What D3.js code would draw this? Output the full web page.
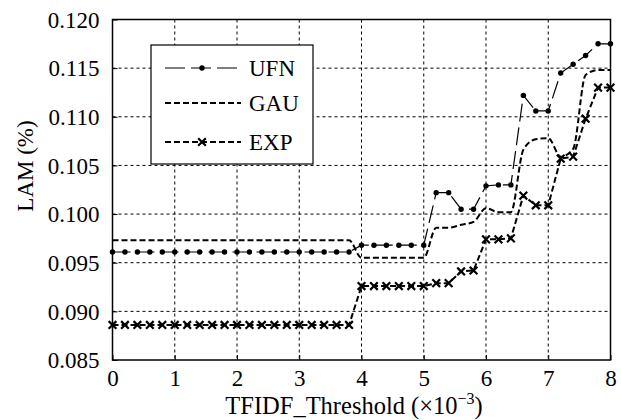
<!DOCTYPE html>
<html>
<head>
<meta charset="utf-8">
<script src="https://cdn.jsdelivr.net/npm/d3@7"></script>
<style>
  body { margin: 0; background: #fff; }
  text { font-family: "Liberation Serif", "Times New Roman", serif; fill: #000; }
</style>
</head>
<body>
<div class="chart"></div>
<script>
// data
var thresholds = [0, 0.2, 0.4, 0.6, 0.8, 1, 1.2, 1.4, 1.6, 1.8, 2, 2.2, 2.4, 2.6, 2.8, 3, 3.2, 3.4, 3.6, 3.8,
  4, 4.2, 4.4, 4.6, 4.8, 5, 5.2, 5.4, 5.6, 5.8, 6, 6.2, 6.4, 6.6, 6.8, 7, 7.2, 7.4, 7.6, 7.8, 8];

var ufn = [0.0961, 0.0961, 0.0961, 0.0961, 0.0961, 0.0961, 0.0961, 0.0961, 0.0961, 0.0961,
  0.0961, 0.0961, 0.0961, 0.0961, 0.0961, 0.0961, 0.0961, 0.0961, 0.0961, 0.0961,
  0.0968, 0.0968, 0.0968, 0.0968, 0.0968, 0.0968,
  0.1022, 0.1022, 0.1005, 0.1005, 0.1029, 0.1030, 0.1030, 0.1122, 0.1106, 0.1106,
  0.1145, 0.1154, 0.1163, 0.1175, 0.1175];

var gau = [0.0973, 0.0973, 0.0973, 0.0973, 0.0973, 0.0973, 0.0973, 0.0973, 0.0973, 0.0973,
  0.0973, 0.0973, 0.0973, 0.0973, 0.0973, 0.0973, 0.0973, 0.0973, 0.0973, 0.0973,
  0.0955, 0.0955, 0.0955, 0.0955, 0.0955, 0.0955,
  0.0986, 0.0986, 0.0989, 0.0992, 0.1006, 0.1002, 0.1002, 0.1066, 0.1077, 0.1078,
  0.1059, 0.1067, 0.1143, 0.1148, 0.1148];

var exp = [0.0886, 0.0886, 0.0886, 0.0886, 0.0886, 0.0886, 0.0886, 0.0886, 0.0886, 0.0886,
  0.0886, 0.0886, 0.0886, 0.0886, 0.0886, 0.0886, 0.0886, 0.0886, 0.0886, 0.0886,
  0.0926, 0.0926, 0.0926, 0.0926, 0.0926, 0.0926,
  0.0929, 0.0929, 0.0941, 0.0942, 0.0974, 0.0974, 0.0975, 0.1019, 0.1009, 0.1009,
  0.1057, 0.1059, 0.1098, 0.1130, 0.1130];

var xTicks = [0, 1, 2, 3, 4, 5, 6, 7, 8];
var yTicks = [0.085, 0.090, 0.095, 0.100, 0.105, 0.110, 0.115, 0.120];
var seriesNames = ["UFN", "GAU", "EXP"];

var svgWidth = 621;
var svgHeight = 420;
var margin = { top: 19.5, right: 10.5, bottom: 60, left: 112.5 };
var width = svgWidth - margin.left - margin.right;
var height = svgHeight - margin.top - margin.bottom;

var serif = "'Liberation Serif', 'Times New Roman', serif";

var svg = d3.select(".chart")
  .append("svg")
  .attr("width", svgWidth)
  .attr("height", svgHeight)
  .attr("font-family", serif);

var chartGroup = svg.append("g")
  .attr("transform", `translate(${margin.left}, ${margin.top})`);

var xScale = d3.scaleLinear().domain([0, 8]).range([0, width]);
var yScale = d3.scaleLinear().domain([0.085, 0.120]).range([height, 0]);

// grid
chartGroup.append("g")
  .selectAll("line")
  .data(xTicks.slice(1, -1))
  .enter()
  .append("line")
  .attr("x1", d => xScale(d)).attr("x2", d => xScale(d))
  .attr("y1", 0).attr("y2", height)
  .attr("stroke", "#000").attr("stroke-width", 1)
  .attr("stroke-dasharray", "3,3");

chartGroup.append("g")
  .selectAll("line")
  .data(yTicks.slice(1, -1))
  .enter()
  .append("line")
  .attr("y1", d => yScale(d)).attr("y2", d => yScale(d))
  .attr("x1", 0).attr("x2", width)
  .attr("stroke", "#000").attr("stroke-width", 1)
  .attr("stroke-dasharray", "3,3");

// axes
var bottomAxis = d3.axisBottom(xScale).tickValues(xTicks).tickSize(-5).tickPadding(10).tickFormat(d3.format("d"));
var leftAxis = d3.axisLeft(yScale).tickValues(yTicks).tickSize(-5).tickPadding(13).tickFormat(d3.format(".3f"));

var xAxisG = chartGroup.append("g")
  .attr("transform", `translate(0, ${height})`)
  .call(bottomAxis);
var yAxisG = chartGroup.append("g").call(leftAxis);

[xAxisG, yAxisG].forEach(function(g) {
  g.attr("font-family", serif).attr("font-size", 23);
  g.select(".domain").remove();
  g.selectAll("line").attr("stroke", "#000");
  g.selectAll("text").attr("fill", "#000");
});
yAxisG.selectAll("text").attr("dy", "0.34em");

// lines
var points = function(vals) {
  return thresholds.map((t, i) => ({ x: t, y: vals[i] }));
};
var line = d3.line().x(d => xScale(d.x)).y(d => yScale(d.y));
var smooth = d3.line().x(d => xScale(d.x)).y(d => yScale(d.y)).curve(d3.curveMonotoneX);

chartGroup.append("path")
  .datum(points(gau))
  .attr("d", smooth)
  .attr("fill", "none").attr("stroke", "#000")
  .attr("stroke-width", 2).attr("stroke-dasharray", "6,3");

chartGroup.append("path")
  .datum(points(exp))
  .attr("d", line)
  .attr("fill", "none").attr("stroke", "#000")
  .attr("stroke-width", 2).attr("stroke-dasharray", "6,3");

chartGroup.append("path")
  .datum(points(ufn))
  .attr("d", line)
  .attr("fill", "none").attr("stroke", "#000")
  .attr("stroke-width", 1.2).attr("stroke-dasharray", "18,6");

var crossSym = d3.symbol().type(d3.symbolTimes).size(40);

chartGroup.append("g")
  .selectAll("path")
  .data(points(exp))
  .enter()
  .append("path")
  .attr("transform", d => `translate(${xScale(d.x)}, ${yScale(d.y)})`)
  .attr("d", crossSym)
  .attr("fill", "none").attr("stroke", "#000").attr("stroke-width", 2.2);

chartGroup.append("g")
  .selectAll("circle")
  .data(points(ufn))
  .enter()
  .append("circle")
  .attr("cx", d => xScale(d.x))
  .attr("cy", d => yScale(d.y))
  .attr("r", 2.7)
  .attr("fill", "#000");

// frame
chartGroup.append("rect")
  .attr("width", width).attr("height", height)
  .attr("fill", "none").attr("stroke", "#000").attr("stroke-width", 1.5);

// legend
var legend = svg.append("g").attr("transform", "translate(151, 45)");
legend.append("rect")
  .attr("width", 162).attr("height", 119)
  .attr("fill", "#fff").attr("stroke", "#000").attr("stroke-width", 1.2);

var legendY = [23, 58, 97];
var legendDash = ["20,6", "6,3", "6,3"];
var legendWidth = [1.2, 2, 2];
seriesNames.forEach(function(name, i) {
  legend.append("line")
    .attr("x1", 14).attr("x2", 90)
    .attr("y1", legendY[i]).attr("y2", legendY[i])
    .attr("stroke", "#000")
    .attr("stroke-width", legendWidth[i])
    .attr("stroke-dasharray", legendDash[i]);
  legend.append("text")
    .attr("x", 98).attr("y", legendY[i])
    .attr("dy", "0.35em")
    .attr("font-size", 23)
    .text(name);
});
legend.append("circle").attr("cx", 51).attr("cy", legendY[0]).attr("r", 2.7).attr("fill", "#000");
legend.append("path")
  .attr("transform", `translate(51, ${legendY[2]})`)
  .attr("d", crossSym)
  .attr("fill", "none").attr("stroke", "#000").attr("stroke-width", 2.2);

// axis titles
svg.append("text")
  .attr("transform", "translate(33, 166) rotate(-90)")
  .attr("text-anchor", "middle")
  .attr("font-size", 23)
  .text("LAM (%)");

var xTitle = svg.append("text")
  .attr("x", 354).attr("y", 414)
  .attr("text-anchor", "middle")
  .attr("font-size", 24.5);
xTitle.append("tspan").text("TFIDF_Threshold");
xTitle.append("tspan").attr("dx", 6).text("(×10");
xTitle.append("tspan").attr("dy", -10).attr("font-size", 16).text("−3");
xTitle.append("tspan").attr("dy", 10).text(")");
</script>
</body>
</html>
